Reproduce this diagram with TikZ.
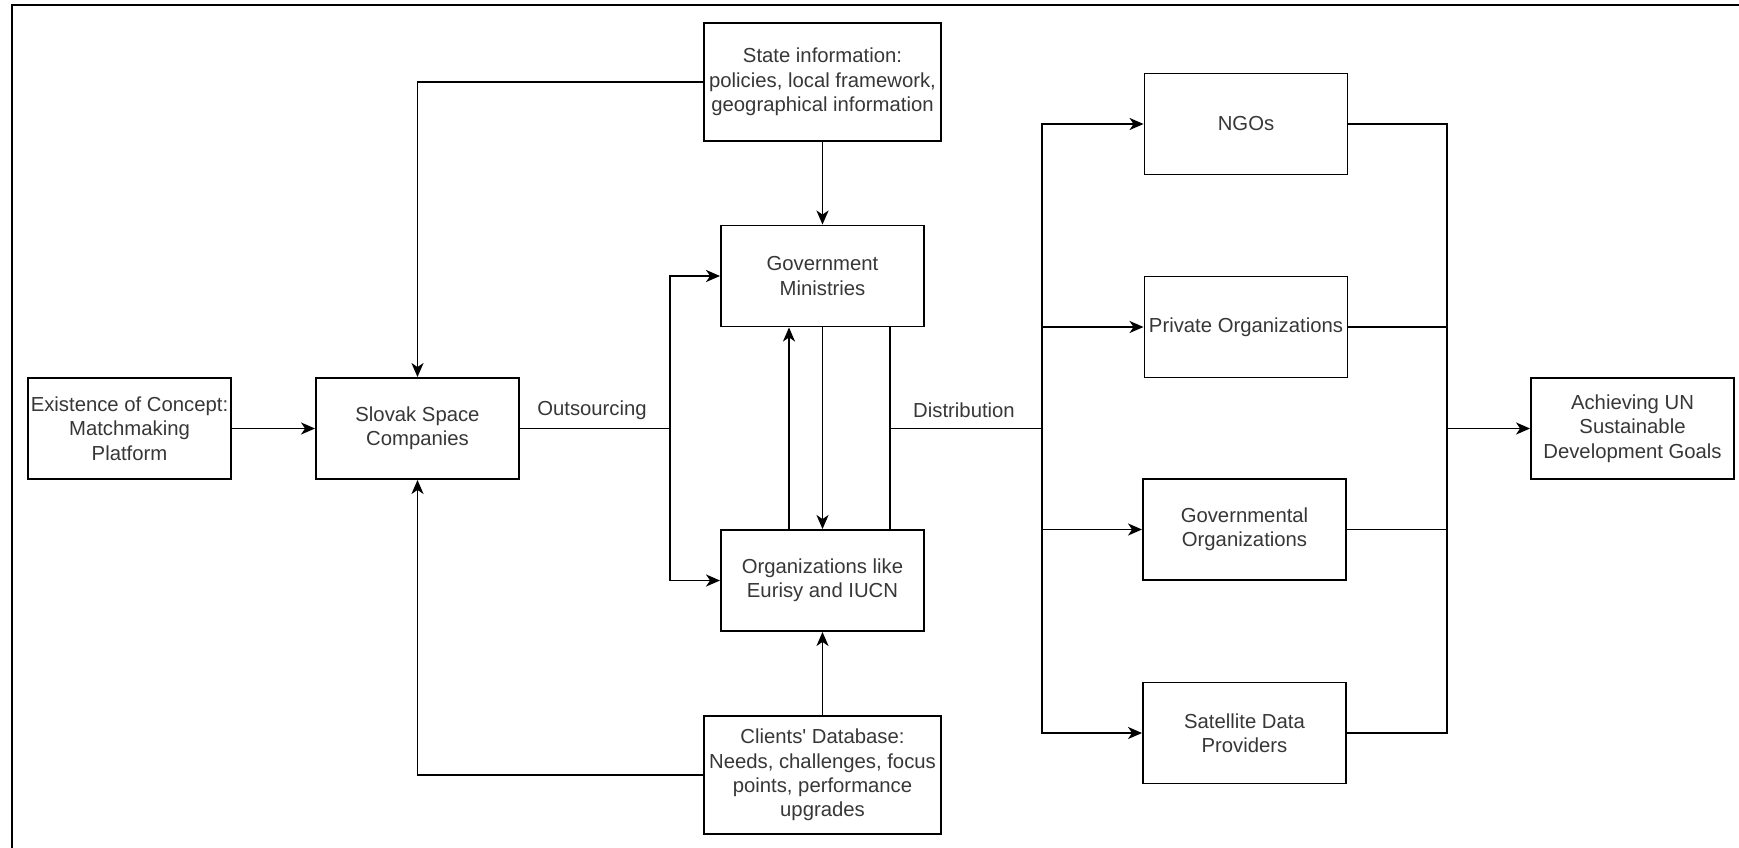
\documentclass[tikz,border=0pt]{standalone}
\usepackage{fontspec}
\setmainfont{Liberation Sans}
\newfontfamily\arialfam{Liberation Sans}
\usetikzlibrary{arrows.meta}
\definecolor{txt}{RGB}{55,55,55}
\begin{document}
\begin{tikzpicture}[x=1pt,y=-1pt,
  box/.style={draw=black, line width=1.9pt, rectangle, inner sep=0pt, minimum width=203pt, minimum height=101pt, align=center, text=txt, font=\arialfam\fontsize{20.3}{24.4}\selectfont},
  wide/.style={box, minimum width=237pt, minimum height=118pt},
  conn/.style={line width=1.9pt, draw=black},
  arr/.style={conn, -{Stealth[length=14pt,width=12pt,inset=4pt]}},
  lbl/.style={text=txt, font=\arialfam\fontsize{20.3}{24.4}\selectfont, inner sep=0pt}
]
\useasboundingbox (0,0) rectangle (1739,848);
\fill[white] (0,0) rectangle (1739,848);
% frame (only top and left edges visible)
\draw[line width=2pt] (12,860) -- (12,5.5) -- (1745,5.5);

% nodes
\node[box]  (exist)   at (129.5,428.5) {Existence of Concept:\\Matchmaking\\Platform};
\node[box]  (slovak)  at (417.5,428.5) {Slovak Space\\Companies};
\node[wide] (state)   at (822.5,82)    {State information:\\policies, local framework,\\geographical information};
\node[box]  (gov)     at (822.5,276)   {Government\\Ministries};
\node[box]  (orgs)    at (822.5,580.5) {Organizations like\\Eurisy and IUCN};
\node[wide] (clients) at (822.5,775)   {Clients' Database:\\Needs, challenges, focus\\points, performance\\upgrades};
\node[box]  (ngo)     at (1246,124)    {NGOs};
\node[box]  (priv)    at (1246,327)    {Private Organizations};
\node[box]  (govorg)  at (1244.5,529.5) {Governmental\\Organizations};
\node[box]  (sat)     at (1244.5,733)  {Satellite Data\\Providers};
\node[box]  (un)      at (1632.5,428.5) {Achieving UN\\Sustainable\\Development Goals};

% junction coordinates
\coordinate (jout)  at (670,428.5);
\coordinate (jd)    at (890,428.5);
\coordinate (jdist) at (1042,428.5);
\coordinate (jin)   at (1447,428.5);

% labels
\node[lbl] (outs) at (592,410) {Outsourcing};
\node[lbl] (dist) at (964,410) {Distribution};

% connectors
\draw[arr] (exist.east) -- (slovak.west);
\draw[arr] (state.west) -| (slovak.north);
\draw[arr] (clients.west) -| (slovak.south);
\draw[conn] (slovak.east) -- (jout);
\draw[arr] (jout) |- (gov.west);
\draw[arr] (jout) |- (orgs.west);
\draw[arr] (state.south) -- (gov.north);
\draw[arr] (clients.north) -- (orgs.south);
\draw[arr] ([xshift=-33.5pt]orgs.north) -- ([xshift=-33.5pt]gov.south);
\draw[arr] (gov.south) -- (orgs.north);
\draw[conn] ([xshift=67.5pt]gov.south) -- ([xshift=67.5pt]orgs.north);
\draw[conn] (jd) -- (jdist);
\draw[arr] (jdist) |- (ngo.west);
\draw[arr] (jdist) |- (priv.west);
\draw[arr] (jdist) |- (govorg.west);
\draw[arr] (jdist) |- (sat.west);
\draw[conn] (ngo.east) -| (jin);
\draw[conn] (priv.east) -| (jin);
\draw[conn] (govorg.east) -| (jin);
\draw[conn] (sat.east) -| (jin);
\draw[arr] (jin) -- (un.west);
\end{tikzpicture}
\end{document}
